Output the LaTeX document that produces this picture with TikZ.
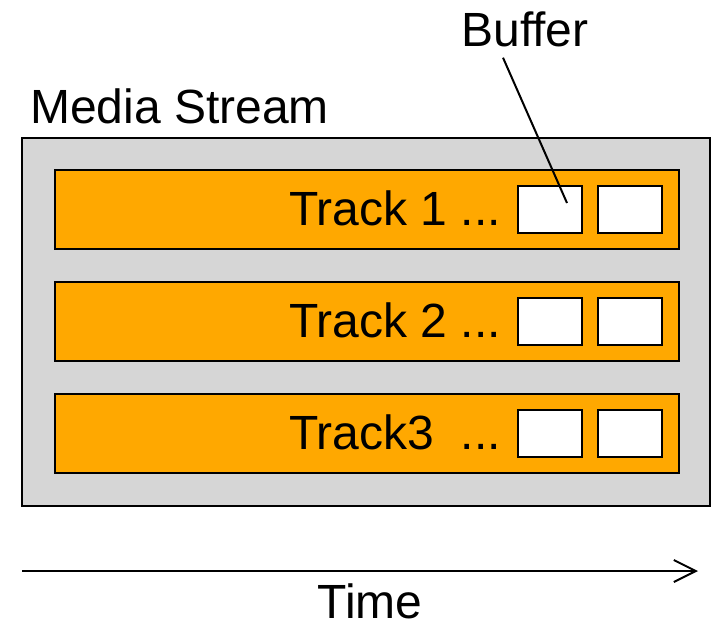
\documentclass[tikz,border=0pt]{standalone}
\usepackage{fontspec}
\setmainfont{Liberation Sans}
\usepackage{tikz}
\usetikzlibrary{positioning,calc}
\usetikzlibrary{arrows.meta}

\definecolor{streamgray}{HTML}{D6D6D6}
\definecolor{trackorange}{HTML}{FFA800}

\begin{document}
\begin{tikzpicture}[x=1pt,y=-1pt]
			\tikzset{
				streambox/.style={draw=black,line width=2pt,fill=streamgray,rectangle,minimum width=688pt,minimum height=368pt},
				trackbox/.style={draw=black,line width=2pt,fill=trackorange,rectangle,minimum width=624pt,minimum height=79pt},
				bufbox/.style={draw=black,line width=2pt,fill=white,rectangle,minimum width=64pt,minimum height=47pt},
				label/.style={inner sep=0pt,font=\fontsize{48}{58}\selectfont},
			}
			\useasboundingbox (0,0) rectangle (711,622);

			\node[streambox] (stream) at (366,322) {};
			\node[label,anchor=base west] (streamlabel) at (30,123) {Media Stream};

			\node[trackbox] (track1) at (367,209.5) {};
			\node[trackbox] (track2) at (367,321.5) {};
			\node[trackbox] (track3) at (367,433.5) {};

			\node[label,anchor=base east] (tracklabel1) at (501,225) {Track 1 ...};
			\node[label,anchor=base east] (tracklabel2) at (501,337) {Track 2 ...};
			\node[label,anchor=base east] (tracklabel3) at (501,449) {Track3~~...};

			\node[bufbox] (buf1a) at (550,209.5) {};
			\node[bufbox] (buf1b) at (630,209.5) {};
			\node[bufbox] (buf2a) at (550,321.5) {};
			\node[bufbox] (buf2b) at (630,321.5) {};
			\node[bufbox] (buf3a) at (550,433.5) {};
			\node[bufbox] (buf3b) at (630,433.5) {};

			\node[label,anchor=base] (bufferlabel) at (525,46) {Buffer};
			\coordinate (bufpoint) at (567,203);
			\draw[line width=2pt] ([xshift=-22pt,yshift=-11pt]bufferlabel.south) -- (bufpoint);

			\coordinate (tstart) at (22,571);
			\coordinate (tend) at (698,571);
			\draw[-{Straight Barb[length=22pt,width=22pt]},line width=2pt] (tstart) -- (tend);
			\node[label,anchor=base] (timelabel) at (370,618) {Time};
		\end{tikzpicture}
\end{document}
